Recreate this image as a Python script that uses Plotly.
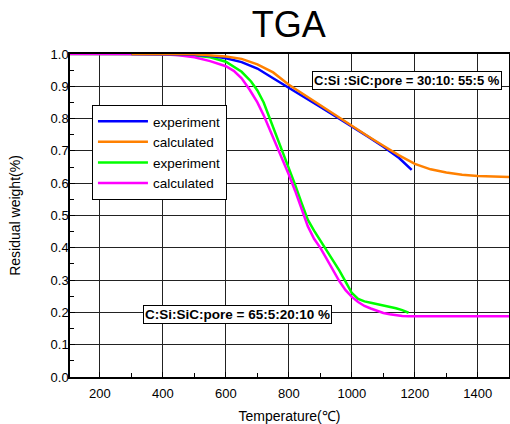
import plotly.graph_objects as go

# --- Data ---
temp_exp_a = [300, 400, 500, 560, 600, 650, 700, 750, 800, 850, 900, 950, 1000, 1050, 1100, 1150, 1190]
wt_exp_a   = [1.0, 1.0, 0.998, 0.993, 0.987, 0.975, 0.955, 0.925, 0.896, 0.866, 0.836, 0.806, 0.776, 0.745, 0.713, 0.678, 0.641]

temp_calc_a = [300, 400, 500, 600, 650, 700, 750, 800, 850, 900, 950, 1000, 1050, 1100, 1150, 1200, 1250, 1300, 1350, 1400, 1450, 1500]
wt_calc_a   = [1.0, 1.0, 0.999, 0.992, 0.985, 0.968, 0.943, 0.905, 0.873, 0.841, 0.810, 0.778, 0.746, 0.716, 0.686, 0.660, 0.643, 0.633, 0.626, 0.622, 0.620, 0.619]

temp_exp_b = [100, 200, 300, 400, 500, 550, 600, 650, 680, 700, 720, 740, 760, 780, 800, 820, 840, 860, 880, 900, 920, 940, 960, 980, 1000, 1020, 1040, 1060, 1080, 1100, 1120, 1140, 1160, 1180]
wt_exp_b   = [1.0, 1.0, 1.0, 0.999, 0.995, 0.990, 0.976, 0.945, 0.915, 0.887, 0.850, 0.800, 0.750, 0.700, 0.648, 0.595, 0.540, 0.487, 0.453, 0.423, 0.394, 0.364, 0.330, 0.295, 0.260, 0.242, 0.234, 0.230, 0.226, 0.222, 0.218, 0.213, 0.207, 0.199]

temp_calc_b = [100, 200, 300, 400, 450, 500, 550, 600, 625, 650, 675, 700, 720, 740, 760, 780, 800, 820, 840, 860, 880, 900, 920, 940, 960, 980, 1000, 1020, 1040, 1060, 1080, 1100, 1120, 1140, 1160, 1180, 1200, 1300, 1400, 1500]
wt_calc_b   = [1.0, 1.0, 1.0, 0.999, 0.996, 0.990, 0.978, 0.962, 0.948, 0.925, 0.890, 0.850, 0.810, 0.765, 0.720, 0.672, 0.626, 0.576, 0.520, 0.467, 0.428, 0.400, 0.366, 0.331, 0.297, 0.269, 0.248, 0.232, 0.220, 0.212, 0.204, 0.198, 0.194, 0.191, 0.189, 0.188, 0.188, 0.188, 0.188, 0.188]

series_names = ["experiment", "calculated", "experiment", "calculated"]
series_colors = ["#0000FF", "#FF8000", "#00FF00", "#FF00FF"]
x_ticks = [200, 400, 600, 800, 1000, 1200, 1400]
y_ticks = [0.0, 0.1, 0.2, 0.3, 0.4, 0.5, 0.6, 0.7, 0.8, 0.9, 1.0]
note_a = "C:Si :SiC:pore = 30:10: 55:5 %"
note_b = "C:Si:SiC:pore = 65:5:20:10 %"

fig = go.Figure()
# draw order: green, magenta, blue, orange ; legend order via legendrank
traces = [
    (temp_exp_b, wt_exp_b, 2),
    (temp_calc_b, wt_calc_b, 3),
    (temp_exp_a, wt_exp_a, 0),
    (temp_calc_a, wt_calc_a, 1),
]
for xs, ys, i in traces:
    fig.add_trace(go.Scatter(
        x=xs, y=ys, mode="lines", name=series_names[i],
        line=dict(color=series_colors[i], width=2.5),
        legendrank=i + 1,
    ))

FAM = "Arial, Liberation Sans, sans-serif"
axis_font = dict(family=FAM, size=13, color="black")

fig.update_layout(
    width=510, height=424,
    template="none",
    paper_bgcolor="white", plot_bgcolor="white",
    margin=dict(l=70, r=1, t=54, b=47),
    font=axis_font,
    title=dict(text="TGA", x=0.566, xanchor="center", y=0.942, yanchor="middle",
               font=dict(family=FAM, size=36, color="black")),
    showlegend=True,
    legend=dict(x=0.05, y=0.842, xanchor="left", yanchor="top",
                bgcolor="white", bordercolor="black", borderwidth=1,
                font=dict(family=FAM, size=13.5, color="black"),
                tracegroupgap=0, itemwidth=50, entrywidth=140),
    xaxis=dict(
        range=[105, 1499], tickvals=x_ticks, ticktext=[str(v) for v in x_ticks],
        showgrid=True, gridcolor="#222222", gridwidth=1,
        showline=True, linecolor="black", linewidth=1.5, mirror=True,
        ticks="inside", ticklen=5, tickcolor="black", ticklabelstandoff=4,
        minor=dict(ticks="inside", ticklen=4, dtick=100, tick0=0, tickcolor="black", showgrid=False),
        zeroline=False, automargin=False, layer="below traces",
        title=dict(text="Temperature(℃)", standoff=12,
                   font=dict(family=FAM, size=14, color="black")),
    ),
    yaxis=dict(
        range=[0, 1.0], tickvals=y_ticks, ticktext=["%.1f" % v for v in y_ticks],
        showgrid=True, gridcolor="#222222", gridwidth=1,
        showline=True, linecolor="black", linewidth=1.5, mirror=True,
        ticks="inside", ticklen=5, tickcolor="black", ticklabelstandoff=-3,
        minor=dict(ticks="inside", ticklen=4, dtick=0.05, tick0=0, tickcolor="black", showgrid=False),
        zeroline=False, automargin=False, layer="below traces",
        title=dict(text="Residual weight(%)", standoff=27,
                   font=dict(family=FAM, size=14, color="black")),
    ),
)

fig.add_annotation(x=1175, y=0.918, xref="x", yref="y", text="<b>" + note_a + "</b>",
                   showarrow=False, font=dict(family=FAM, size=13, color="black"),
                   bgcolor="white", bordercolor="black", borderwidth=1, borderpad=1)
fig.add_annotation(x=638, y=0.193, xref="x", yref="y", text="<b>" + note_b + "</b>",
                   showarrow=False, font=dict(family=FAM, size=13.5, color="black"),
                   bgcolor="white", bordercolor="black", borderwidth=1, borderpad=1)

fig.write_html("out.html", config={"displayModeBar": False},
               post_script="document.body.style.margin='0px';")
